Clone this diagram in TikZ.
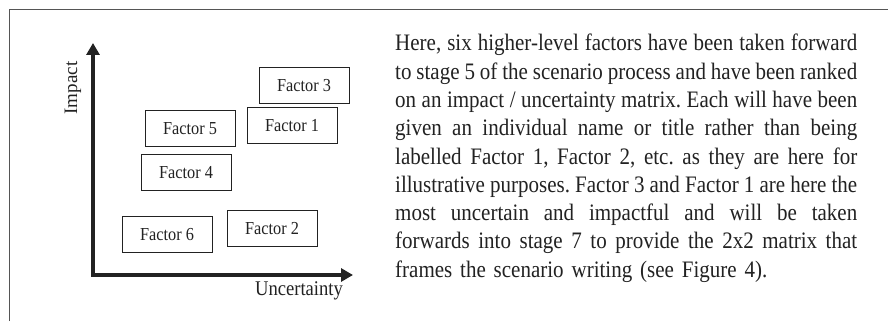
\documentclass[tikz,border=0pt]{standalone}
\usepackage{fontspec}
\setmainfont{Liberation Serif}
\newfontfamily\narrowserif[FakeStretch=0.89]{Liberation Serif}
\usetikzlibrary{arrows.meta}
\definecolor{ink}{HTML}{222222}
\definecolor{framegray}{HTML}{555555}
% one justified line: every interword space becomes equally stretchable glue
\def\jlwords#1 #2\relax{#1\ifx\relax#2\relax\else
  \hskip 0.25em plus 1fil minus 0.08em\jlwords#2\relax\fi}
\newcommand{\fullline}[1]{\hbox to 462pt{\jlwords#1 \relax}}
\newcommand{\bodysetup}{\narrowserif\fontsize{23.6}{28.3}\selectfont}
\tikzset{
  factor/.style={draw=ink, line width=1pt, minimum width=90pt, minimum height=36pt,
    inner sep=0pt, text=ink, font=\narrowserif\fontsize{18.3}{20}\selectfont},
  axis/.style={draw=ink, line width=4pt,
    {Triangle[width=13pt,length=12pt]}-{Triangle[width=13pt,length=12pt]}},
  axislabel/.style={text=ink, inner sep=0pt},
  bodytext/.style={text=ink, inner sep=0pt, anchor=north west, text width=462pt,
    align=left, font=\bodysetup},
  frameline/.style={draw=framegray, line width=1.6pt}
}
\begin{document}
\begin{tikzpicture}[x=1pt,y=1pt]
\useasboundingbox (0,0) rectangle (888,321);
\fill[white] (0,0) rectangle (888,321);

% open frame: left and top edges
\coordinate (fb) at (9.5,0);
\coordinate (fc) at (9.5,311.5);
\coordinate (fr) at (888,311.5);
\draw[frameline] (fb) -- (fc) -- (fr);

% impact / uncertainty axes
\coordinate (ytip) at (93,278);
\coordinate (orig) at (93,46);
\coordinate (xtip) at (353,46);
\draw[axis] (ytip) -- (orig) -- (xtip);
\node[axislabel, rotate=90, font=\fontsize{19}{21}\selectfont] (impact) at (73,233) {Impact};
\node[axislabel, font=\narrowserif\fontsize{20.9}{22}\selectfont] (uncert) at (299,30) {Uncertainty};

% ranked factors
\node[factor] (f3) at (304,235) {Factor 3};
\node[factor] (f5) at (190,192) {Factor 5};
\node[factor] (f1) at (292,195) {Factor 1};
\node[factor] (f4) at (186,148) {Factor 4};
\node[factor] (f6) at (167,86)  {Factor 6};
\node[factor] (f2) at (272,92)  {Factor 2};

% explanatory paragraph, justified line by line
\node[bodytext] (para) at (395,287) {%
\fullline{Here, six higher-level factors have been taken forward}
\fullline{to stage 5 of the scenario process and have been ranked}
\fullline{on an impact / uncertainty matrix. Each will have been}
\fullline{given an individual name or title rather than being}
\fullline{labelled Factor 1, Factor 2, etc. as they are here for}
\fullline{illustrative purposes. Factor 3 and Factor 1 are here the}
\fullline{most uncertain and impactful and will be taken}
\fullline{forwards into stage 7 to provide the 2x2 matrix that}
\hbox{frames the scenario writing (see Figure 4).}};
\end{tikzpicture}
\end{document}
